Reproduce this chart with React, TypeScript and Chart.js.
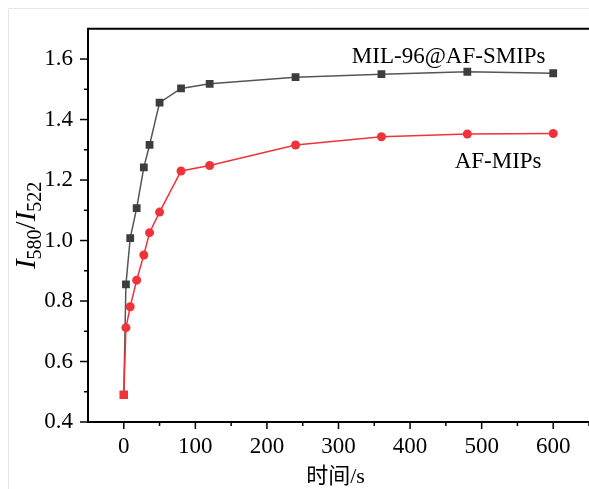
import React, { useEffect, useRef } from "react";
import { Chart, registerables } from "chart.js";

Chart.register(...registerables);

const times = [0, 3, 9, 18, 28, 36, 50, 80, 120, 240, 360, 480, 600];
const silMips = [0.49, 0.855, 1.008, 1.107, 1.242, 1.316, 1.456, 1.503, 1.518, 1.54, 1.55, 1.558, 1.553];
const afMips = [0.49, 0.712, 0.781, 0.869, 0.952, 1.026, 1.094, 1.23, 1.248, 1.316, 1.343, 1.352, 1.354];
const seriesNames = ["MIL-96@AF-SMIPs", "AF-MIPs"];
const xTicks = [-50, 0, 50, 100, 150, 200, 250, 300, 350, 400, 450, 500, 550, 600, 650];
const yTicksTenths = [4, 5, 6, 7, 8, 9, 10, 11, 12, 13, 14, 15, 16];
const xTitle = "时间/s";

const SERIF = "'Liberation Serif', 'Times New Roman', serif";
const BLACK_C = "#3d3d3d";
const RED_C = "#f0333a";

const decorPlugin = {
  id: "decor",
  afterDraw(chart: any) {
    const { ctx, chartArea, scales } = chart;
    const xs = scales.x;
    const ys = scales.y;
    ctx.save();
    // faint outer frame
    ctx.strokeStyle = "#e6e6e6";
    ctx.lineWidth = 1;
    ctx.beginPath();
    ctx.moveTo(8.5, 600);
    ctx.lineTo(8.5, 8.5);
    ctx.lineTo(700, 8.5);
    ctx.stroke();
    // top frame
    ctx.strokeStyle = "#000";
    ctx.lineWidth = 2;
    ctx.beginPath();
    ctx.moveTo(chartArea.left - 1, chartArea.top);
    ctx.lineTo(chartArea.right + 1, chartArea.top);
    ctx.stroke();
    // ticks
    ctx.lineWidth = 1.5;
    for (const v of xTicks) {
      const px = xs.getPixelForValue(v);
      if (px < chartArea.left + 2 || px > chartArea.right) continue;
      const major = v % 100 === 0;
      ctx.beginPath();
      ctx.moveTo(px, chartArea.bottom);
      ctx.lineTo(px, chartArea.bottom + (major ? 7 : 4));
      ctx.stroke();
    }
    for (const t of yTicksTenths) {
      const py = ys.getPixelForValue(t / 10);
      const major = t % 2 === 0;
      ctx.beginPath();
      ctx.moveTo(chartArea.left, py);
      ctx.lineTo(chartArea.left - (major ? 8 : 4), py);
      ctx.stroke();
    }
    // x title
    ctx.fillStyle = "#000";
    ctx.font = `22px ${SERIF}, 'Noto Sans CJK SC'`;
    ctx.textAlign = "center";
    ctx.textBaseline = "middle";
    ctx.fillText(xTitle, (chartArea.left + chartArea.right) / 2 - 3, 477);
    // y title I580/I522
    const big = 29;
    const small = 20;
    const parts = [
      { t: "I", f: `italic ${big}px ${SERIF}`, dy: 0 },
      { t: "580", f: `${small}px ${SERIF}`, dy: 6 },
      { t: "/", f: `${big}px ${SERIF}`, dy: 0 },
      { t: "I", f: `italic ${big}px ${SERIF}`, dy: 0 },
      { t: "522", f: `${small}px ${SERIF}`, dy: 6 },
    ];
    let total = 0;
    for (const p of parts) {
      ctx.font = p.f;
      total += ctx.measureText(p.t).width;
    }
    ctx.translate(35, (chartArea.top + chartArea.bottom) / 2);
    ctx.rotate(-Math.PI / 2);
    ctx.textAlign = "left";
    ctx.textBaseline = "alphabetic";
    let cx = -total / 2;
    for (const p of parts) {
      ctx.font = p.f;
      ctx.fillText(p.t, cx, p.dy);
      cx += ctx.measureText(p.t).width;
    }
    ctx.setTransform(1, 0, 0, 1, 0, 0);
    // series labels
    ctx.font = `23px ${SERIF}`;
    ctx.textAlign = "center";
    ctx.textBaseline = "middle";
    ctx.fillStyle = "#000";
    ctx.fillText(seriesNames[0], xs.getPixelForValue(454), ys.getPixelForValue(1.606));
    ctx.fillText(seriesNames[1], xs.getPixelForValue(523), ys.getPixelForValue(1.26));
    ctx.restore();
  },
};

export default function App() {
  const ref = useRef<HTMLCanvasElement>(null);
  useEffect(() => {
    if (!ref.current) return;
    const redStyles = times.map((_, i) => (i === 0 ? "rect" : "circle"));
    const redRadius = times.map((_, i) => (i === 0 ? 6 : 4.5));
    const chart = new Chart(ref.current, {
      type: "line",
      data: {
        datasets: [
          {
            label: seriesNames[1],
            data: times.map((t, i) => ({ x: t, y: afMips[i] })),
            borderColor: RED_C,
            backgroundColor: RED_C,
            borderWidth: 1.5,
            pointStyle: redStyles as any,
            pointRadius: redRadius as any,
            pointBorderWidth: 0,
          },
          {
            label: seriesNames[0],
            data: times.map((t, i) => ({ x: t, y: silMips[i] })),
            borderColor: "#555",
            backgroundColor: BLACK_C,
            borderWidth: 1.5,
            pointStyle: "rect",
            pointRadius: 5.5,
            pointBorderWidth: 0,
          },
        ],
      },
      options: {
        responsive: false,
        animation: false,
        devicePixelRatio: 1,
        layout: { padding: { top: 15, right: 7, left: 0, bottom: 0 } },
        plugins: { legend: { display: false }, tooltip: { enabled: false } },
        scales: {
          x: {
            type: "linear",
            min: -50,
            max: 650,
            afterFit: (s: any) => {
              s.height = 67;
            },
            afterBuildTicks: (s: any) => {
              s.ticks = xTicks.map((v) => ({ value: v }));
            },
            grid: { display: false, drawTicks: false },
            border: { display: true, color: "#000", width: 2 },
            ticks: {
              autoSkip: false,
              maxRotation: 0,
              padding: 11,
              color: "#000",
              font: { family: SERIF, size: 23 },
              callback: (v: any) => (Number(v) % 100 === 0 && Number(v) >= 0 && Number(v) <= 600 ? String(v) : ""),
            },
          },
          y: {
            type: "linear",
            min: 0.4,
            max: 1.7,
            afterFit: (s: any) => {
              s.width = 88;
            },
            afterBuildTicks: (s: any) => {
              s.ticks = yTicksTenths.map((t) => ({ value: t / 10 }));
            },
            grid: { display: false, drawTicks: false },
            border: { display: true, color: "#000", width: 2 },
            ticks: {
              autoSkip: false,
              padding: 15,
              color: "#000",
              font: { family: SERIF, size: 23 },
              callback: (v: any) => {
                const t = Math.round(Number(v) * 10);
                return t % 2 === 0 ? (t / 10).toFixed(1) : "";
              },
            },
          },
        },
      },
      plugins: [decorPlugin],
    });
    return () => chart.destroy();
  }, []);
  return (
    <div style={{ position: "fixed", left: 0, top: 0, width: 589, height: 489, overflow: "hidden", background: "#fff" }}>
      <canvas ref={ref} width={600} height={489} style={{ display: "block" }} />
    </div>
  );
}
